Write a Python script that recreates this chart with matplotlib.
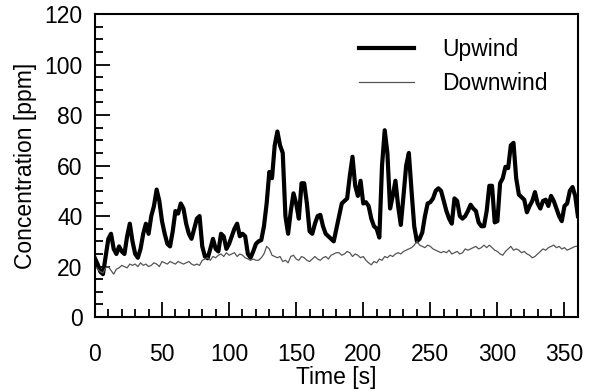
import numpy as np
from matplotlib import pyplot as plt
from matplotlib.ticker import MultipleLocator

# time axis [s], 2 s step
time_s = np.arange(0, 361, 2)

upwind = [
    23.3,
    21, 18, 17, 24, 31, 33, 27, 25, 28, 26,
    25, 32, 37, 30, 25, 23.5, 27, 33, 37, 33,
    40, 44, 50.5, 46, 38, 33, 29, 28, 34, 42,
    41, 45, 43, 37, 33, 31, 35, 39, 40, 28,
    24, 23.3, 27, 31, 27, 26, 33, 32, 27, 29,
    32, 35, 37, 32, 33, 32, 25, 23.5, 26, 29,
    30, 30.5, 36, 45, 57.5, 55, 68, 73.5, 68, 65,
    40, 33, 42, 49, 45, 39, 53, 53, 45, 34,
    33, 37, 40, 40.5, 36, 33, 32, 31, 30, 35,
    40, 45, 46, 47, 56, 63.5, 52, 48, 54, 45,
    45.5, 44, 39, 36, 35, 31.5, 60, 74, 65, 43,
    48, 54, 44, 36.5, 48, 60, 65, 50, 36, 30,
    31, 33.5, 40, 45, 45.5, 47, 50, 51, 50, 46,
    42, 39, 37, 47, 46, 40, 39, 40, 42, 44.5,
    43, 42, 37.5, 36, 36, 42, 52, 52, 37.5, 38,
    53, 55, 59.5, 59, 68, 69, 55, 48.5, 47.5, 46.5,
    41.5, 44, 46, 49.5, 45, 43, 46, 46.5, 44, 48,
    46, 43, 40, 38, 44, 45, 50, 51.5, 48, 40,
]

downwind = [
    20.3, 19, 18, 17.5, 19.5, 20, 18.5, 17, 19, 19.5, 20.5,
    20, 19.5, 21, 20.5, 21, 20, 21.5, 20.5, 21, 20,
    20.5, 21.5, 21, 20, 22, 21.5, 21, 22, 21.5, 21,
    22, 21.5, 21, 21.5, 22, 21, 20.5, 21, 20.5, 22.5,
    23, 23.5, 22.5, 24, 23.5, 24.5, 25, 24, 25.5, 24.5,
    25, 25.5, 24, 25, 24.5, 23.5, 23, 22.5, 23, 22.5,
    22.5, 23.5, 25, 28, 27, 24.5, 24, 23.5, 24, 22,
    22.5, 21.5, 24, 24.5, 23, 22.5, 24, 23.5, 22.5, 22,
    23, 24, 23, 22.5, 23.5, 24, 23, 24.5, 25, 25.5,
    25.5, 24.5, 25, 26, 25.5, 24, 25, 24.5, 23.5, 24,
    22.5, 21.5, 20.7, 22, 21.5, 23, 22.5, 24, 23.5, 24.5,
    24, 25, 25.5, 25, 26, 26.5, 27, 27.5, 28.5, 30,
    28.5, 28, 27.5, 28.5, 28, 27, 26.5, 26, 25.5, 26,
    25.5, 26.5, 25, 25.5, 26, 25, 25.5, 27, 26.5, 27,
    27.5, 28, 27, 27.5, 28.5, 27.5, 28.5, 27.5, 26.5, 26,
    25, 24.5, 26, 27, 28, 26.5, 27, 26.5, 25.5, 26,
    25, 24.5, 23.5, 24, 25, 26, 27, 26.5, 27.5, 28,
    28.5, 27.5, 28, 27, 27.5, 26.5, 27, 27.5, 28, 28,
]

plt.rcParams['font.family'] = ['Liberation Sans', 'DejaVu Sans']
plt.rcParams['font.size'] = 16.5

fig = plt.figure(figsize=(5.97, 3.91), dpi=100)
ax = fig.add_axes([0.159, 0.189, 0.809, 0.775])

ax.plot(time_s, upwind, color='black', lw=3.0, label='Upwind')
ax.plot(time_s, downwind, color='#555555', lw=0.9, label='Downwind')

ax.set_xlim(0, 360)
ax.set_ylim(0, 120)
ax.xaxis.set_major_locator(MultipleLocator(50))
ax.xaxis.set_minor_locator(MultipleLocator(10))
ax.yaxis.set_major_locator(MultipleLocator(20))
ax.yaxis.set_minor_locator(MultipleLocator(5))
ax.tick_params(which='both', direction='in', top=False, right=False, width=1.3)
ax.tick_params(which='major', length=11)
ax.tick_params(which='minor', length=5.5)
ax.tick_params(axis='x', which='major', pad=19)
ax.tick_params(axis='y', which='major', pad=9)
for sp in ax.spines.values():
    sp.set_linewidth(1.5)

ax.set_xlabel("Time [s]", labelpad=0)
ax.set_ylabel("Concentration [ppm]", labelpad=5)

ax.legend(loc='upper right', frameon=False, handlelength=2.4, handletextpad=1.2,
          labelspacing=0.5, borderaxespad=0.3, bbox_to_anchor=(0.97, 0.975))

fig.savefig("out.png", dpi=100)
